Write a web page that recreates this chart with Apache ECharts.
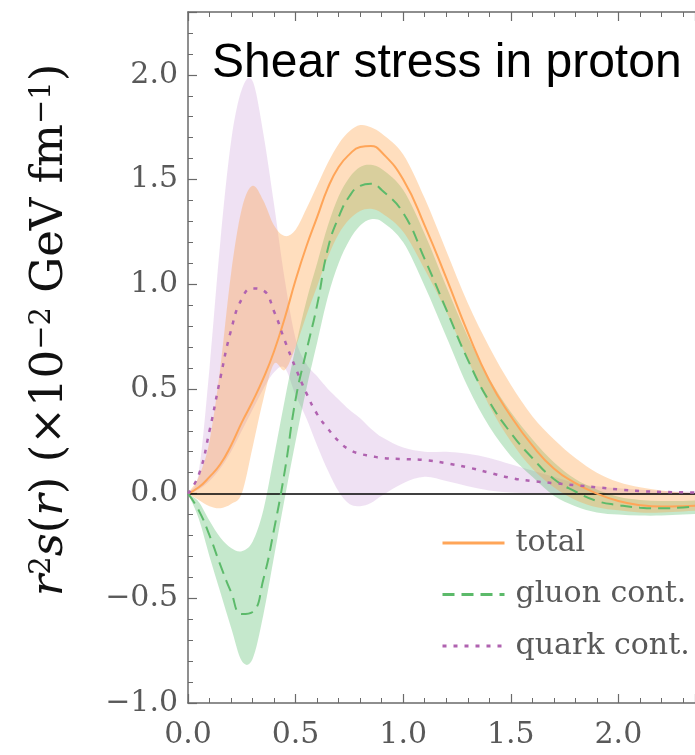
<!DOCTYPE html>
<html>
<head>
<meta charset="utf-8">
<script src="https://cdn.jsdelivr.net/npm/echarts@6/dist/echarts.min.js"></script>
<style>html,body{margin:0;padding:0;background:#fff;}#c{width:695px;height:755px;}</style>
</head>
<body>
<div id="c"></div>
<script>
// r (fm)
const xs = [0,0.05,0.1,0.15,0.2,0.25,0.3,0.35,0.4,0.45,0.5,0.55,0.6,0.65,0.7,0.75,0.8,0.85,0.9,1.0,1.1,1.2,1.3,1.4,1.5,1.6,1.7,1.8,1.9,2.0,2.1,2.2,2.3,2.4];
// central curves
const totalVals = [0,0.03,0.08,0.14,0.23,0.34,0.44,0.55,0.68,0.84,1.02,1.18,1.32,1.46,1.56,1.62,1.655,1.66,1.63,1.50,1.28,1.03,0.77,0.54,0.37,0.23,0.12,0.05,0.0,-0.035,-0.055,-0.062,-0.06,-0.055];
const gluonVals = [0,-0.08,-0.20,-0.34,-0.47,-0.575,-0.565,-0.41,-0.17,0.11,0.45,0.68,0.90,1.17,1.32,1.42,1.47,1.48,1.45,1.34,1.12,0.88,0.64,0.44,0.29,0.17,0.07,0.01,-0.035,-0.055,-0.067,-0.07,-0.066,-0.06];
const quarkVals = [0,0.09,0.30,0.55,0.78,0.93,0.98,0.97,0.87,0.73,0.60,0.48,0.38,0.31,0.25,0.21,0.19,0.18,0.17,0.165,0.16,0.145,0.125,0.10,0.075,0.06,0.05,0.04,0.03,0.02,0.012,0.008,0.006,0.005];
// uncertainty bands
const totalUpper = [0,0.08,0.25,0.60,1.05,1.36,1.47,1.40,1.28,1.23,1.26,1.36,1.47,1.58,1.67,1.73,1.76,1.75,1.72,1.62,1.41,1.16,0.91,0.70,0.52,0.37,0.26,0.17,0.10,0.055,0.03,0.015,0.005,0.0];
const totalLower = [0,-0.03,-0.06,-0.07,-0.05,0.0,0.22,0.45,0.62,0.59,0.70,0.85,0.99,1.13,1.24,1.31,1.35,1.36,1.34,1.25,1.07,0.87,0.64,0.42,0.25,0.12,0.03,-0.03,-0.065,-0.08,-0.09,-0.09,-0.085,-0.08];
const gluonUpper = [0,-0.04,-0.13,-0.21,-0.26,-0.275,-0.23,-0.08,0.18,0.45,0.70,0.92,1.10,1.28,1.42,1.51,1.56,1.57,1.55,1.45,1.24,0.99,0.75,0.55,0.39,0.26,0.15,0.07,0.02,-0.015,-0.03,-0.035,-0.035,-0.03];
const gluonLower = [0,-0.12,-0.30,-0.47,-0.64,-0.80,-0.79,-0.58,-0.30,-0.02,0.25,0.50,0.72,0.94,1.10,1.21,1.28,1.31,1.30,1.20,0.99,0.75,0.51,0.32,0.18,0.08,-0.01,-0.06,-0.09,-0.10,-0.105,-0.105,-0.10,-0.095];
const quarkUpper = [0,0.10,0.60,1.20,1.68,1.93,1.97,1.72,1.38,1.02,0.74,0.62,0.56,0.50,0.45,0.40,0.36,0.31,0.27,0.22,0.20,0.20,0.19,0.17,0.14,0.11,0.08,0.05,0.035,0.025,0.018,0.013,0.01,0.01];
const quarkLower = [0,0.02,0.06,0.12,0.20,0.30,0.40,0.50,0.58,0.60,0.47,0.36,0.23,0.11,0.01,-0.05,-0.06,-0.045,-0.01,0.05,0.08,0.06,0.035,0.015,0.005,0.002,0,0,-0.002,-0.005,-0.005,-0.005,-0.005,-0.005];
// axis tick labels
const xTickLabels = ['0.0','0.5','1.0','1.5','2.0'];
const yTickLabels = ['−1.0','−0.5','0.0','0.5','1.0','1.5','2.0'];
const legendNames = ['total','gluon cont.','quark cont.'];

const pairs = ys => xs.map((x, i) => [x, ys[i]]);

// smooth (cubic Hermite in x) path through pixel points
function hermite(pts, start) {
  const n = pts.length;
  const slope = i => {
    const a = pts[Math.max(0, i - 1)], b = pts[Math.min(n - 1, i + 1)];
    return (b[1] - a[1]) / (b[0] - a[0]);
  };
  let d = (start ? 'M' : 'L') + pts[0][0].toFixed(2) + ',' + pts[0][1].toFixed(2);
  for (let i = 0; i < n - 1; i++) {
    const p = pts[i], q = pts[i + 1];
    const h = (q[0] - p[0]) / 3;
    const c1 = [p[0] + h, p[1] + slope(i) * h];
    const c2 = [q[0] - h, q[1] - slope(i + 1) * h];
    d += ' C' + c1[0].toFixed(2) + ',' + c1[1].toFixed(2) + ' ' + c2[0].toFixed(2) + ',' + c2[1].toFixed(2) + ' ' + q[0].toFixed(2) + ',' + q[1].toFixed(2);
  }
  return d;
}
function band(id, lower, upper, color, opacity) {
  return {
    type:'custom', name:id + '_band', data:[[0, 0]], silent:true, clip:true, z:1,
    renderItem:(params, api) => {
      const up = xs.map((x, i) => api.coord([x, upper[i]]));
      const lo = xs.map((x, i) => api.coord([x, lower[i]])).reverse();
      const d = hermite(up, true) + ' ' + hermite(lo, false) + ' Z';
      return { type:'path', shape:{pathData:d}, style:{fill:color, opacity:opacity, stroke:null} };
    }
  };
}
const serif = 'DejaVu Serif';
const axisGray = '#6a6a6a';
const labelGray = '#595959';
const cTotal = '#ffa558', cGluon = '#5cba6a', cQuark = '#b062b0';

const chart = echarts.init(document.getElementById('c'), null, {renderer:'canvas'});
const fmtY = v => { const i = Math.round((v + 1) / 0.5); return yTickLabels[i] !== undefined && Math.abs(v - (-1 + i*0.5)) < 1e-6 ? yTickLabels[i] : ''; };
const fmtX = v => { const i = Math.round(v / 0.5); return xTickLabels[i] !== undefined && Math.abs(v - i*0.5) < 1e-6 ? xTickLabels[i] : ''; };

const commonX = {
  type:'value', min:0, max:2.356, interval:0.5,
  splitLine:{show:false},
  axisLine:{show:true, onZero:false, lineStyle:{color:axisGray, width:1.5}},
  axisTick:{show:true, inside:true, length:9, lineStyle:{color:axisGray, width:1.2}},
  minorTick:{show:true, splitNumber:5, length:5, lineStyle:{color:axisGray, width:1}},
};
const lineCommon = { type:'line', symbol:'none', showSymbol:false, smooth:0.5, z:5 };

chart.setOption({
  animation:false,
  backgroundColor:'#fff',
  grid:{left:188, right:0, top:12, bottom:52},
  xAxis:[
    Object.assign({}, commonX, {position:'bottom',
      axisLabel:{show:true, showMaxLabel:false, margin:17, color:labelGray, fontFamily:serif, fontSize:30, formatter:fmtX}}),
    Object.assign({}, commonX, {position:'top', axisLabel:{show:false}})
  ],
  yAxis:{
    type:'value', min:-1, max:2.3, interval:0.5,
    splitLine:{show:false},
    axisLine:{show:true, onZero:false, lineStyle:{color:axisGray, width:1.5}},
    axisTick:{show:true, inside:true, length:9, lineStyle:{color:axisGray, width:1.2}},
    minorTick:{show:true, splitNumber:5, length:5, lineStyle:{color:axisGray, width:1}},
    axisLabel:{show:true, showMaxLabel:false, margin:10, color:labelGray, fontFamily:serif, fontSize:30, formatter:fmtY}
  },
  legend:{
    data: legendNames,
    orient:'vertical', left:441, top:523, padding:0,
    itemWidth:62, itemHeight:14, itemGap:11.5,
    textStyle:{fontFamily:serif, fontSize:30, color:labelGray, lineHeight:40, padding:[0,0,0,6]},
    itemStyle:{color:'rgba(0,0,0,0)', borderColor:'rgba(0,0,0,0)', borderWidth:0, opacity:0},
    lineStyle:{width:3},
    selectedMode:false
  },
  graphic:[
    { type:'text', left:212, top:40, z:100,
      style:{text:'Shear stress in proton', font:'48px "Liberation Sans", Arial, sans-serif', fill:'#000'} },
    { type:'text', x:50, y:330, rotation:Math.PI/2, z:100,
      style:{
        text:'{i|r}{sup|2}{i|s}({i|r}) (×10{sup|−2} GeV fm{sup|−1})',
        fontFamily:serif, fontSize:45, fill:'#111', align:'center', verticalAlign:'middle',
        rich:{
          i:{fontFamily:serif, fontStyle:'italic', fontSize:45, fill:'#111'},
          sup:{fontFamily:serif, fontSize:29, verticalAlign:'top', fill:'#111'}
        }
      } }
  ],
  series:[
    band('quark', quarkLower, quarkUpper, 'rgb(180,120,200)', 0.22),
    band('gluon', gluonLower, gluonUpper, 'rgb(90,190,110)', 0.35),
    band('total', totalLower, totalUpper, 'rgb(255,160,70)', 0.35),
    Object.assign({}, lineCommon, { name:'total', data:pairs(totalVals),
      lineStyle:{color:cTotal, width:2, type:'solid'}, itemStyle:{color:cTotal},
      markLine:{silent:true, symbol:'none', label:{show:false}, z:4,
        lineStyle:{color:'#000', width:1.5, type:'solid'}, data:[{yAxis:0}]} }),
    Object.assign({}, lineCommon, { name:'gluon cont.', data:pairs(gluonVals),
      lineStyle:{color:cGluon, width:2, type:[12,7]}, itemStyle:{color:cGluon} }),
    Object.assign({}, lineCommon, { name:'quark cont.', data:pairs(quarkVals),
      lineStyle:{color:cQuark, width:2.5, type:[4,7]}, itemStyle:{color:cQuark} })
  ]
});
</script>
</body>
</html>
